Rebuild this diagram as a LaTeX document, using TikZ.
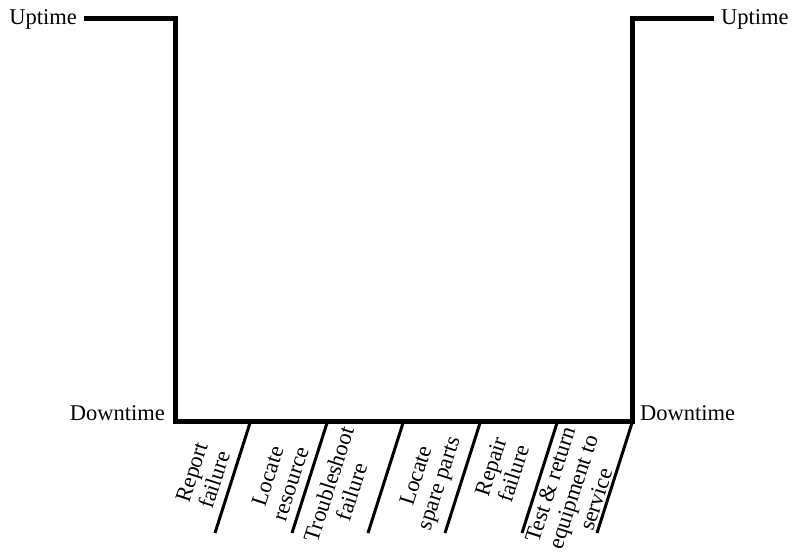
\documentclass[tikz,border=0pt]{standalone}
\usepackage{fontspec}
\setmainfont{Liberation Serif}
\begin{document}
\begin{tikzpicture}[x=1pt,y=-1pt,
  thick line/.style={line width=5pt,line cap=butt,line join=miter},
  slant/.style={line width=3pt},
  lbl/.style={font=\fontsize{22.5}{24}\selectfont,inner sep=0pt},
  steplbl/.style={font=\fontsize{22.5}{24}\selectfont,inner sep=0pt,rotate=72,align=center}]
\useasboundingbox (0,0) rectangle (793,555);
\coordinate (tl0) at (84,18);
\coordinate (tl) at (175,18);
\coordinate (bl) at (175,421);
\coordinate (br) at (632,421);
\coordinate (tr) at (632,18);
\coordinate (tr0) at (714,18);
\draw[thick line] (tl0) -- (tl) -- (bl) -- (br) -- (tr) -- (tr0);
\node[lbl,anchor=east] (up1) at (77,19) {Uptime};
\node[lbl,anchor=west] (up2) at (721,19) {Uptime};
\node[lbl,anchor=east] (dn1) at (165,413) {Downtime};
\node[lbl,anchor=west] (dn2) at (640,413) {Downtime};
\foreach \x [count=\i] in {250,327,403,480,557,632}{
  \coordinate (s\i) at (\x,423);
  \coordinate (e\i) at (\x-35,533);
  \draw[slant] (s\i) -- (e\i);
}
\node[steplbl] (l1) at (203,476) {Report\\failure};
\node[steplbl] (l2) at (279,480) {Locate\\resource};
\node[steplbl] (l3) at (340,488) {Troubleshoot\\failure};
\node[steplbl] (l4) at (429,480) {Locate\\spare parts};
\node[steplbl] (l5) at (502,470) {Repair\\failure};
\node[steplbl] (l6) at (573,492) {Test \& return\\equipment to\\service};
\end{tikzpicture}
\end{document}
